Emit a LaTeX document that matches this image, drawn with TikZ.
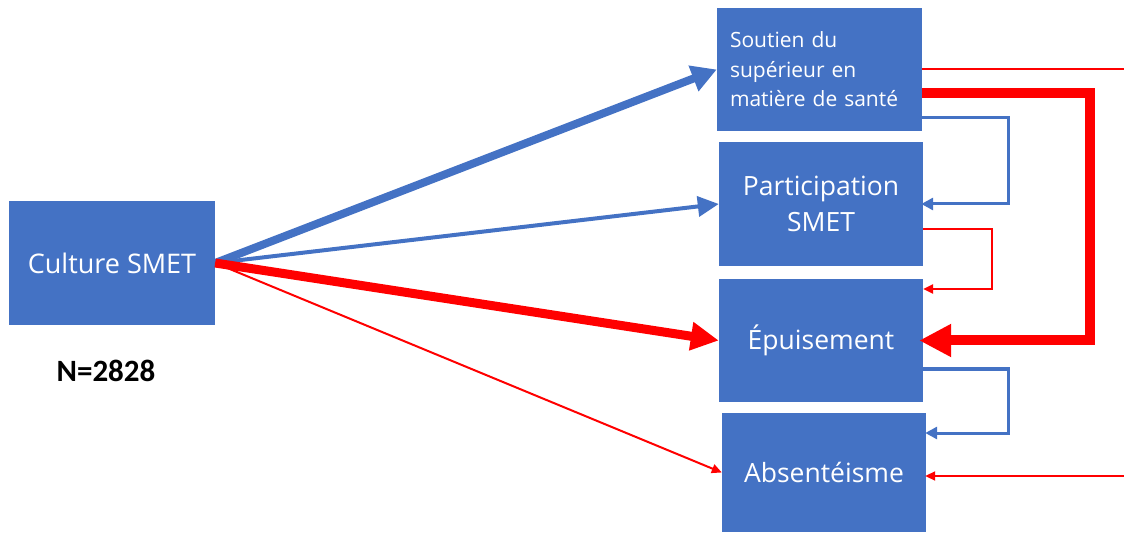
\documentclass[tikz,border=0pt]{standalone}
\usepackage{fontspec}
\setmainfont{Open Sans}
\newfontfamily\calib{Carlito}
\usetikzlibrary{arrows.meta}
\definecolor{obl}{HTML}{4472C4}
\definecolor{ored}{HTML}{FF0000}
\begin{document}
\begin{tikzpicture}[x=1pt,y=-1pt,
  box/.style={fill=obl, text=white, inner sep=0pt, align=center,
    font=\fontsize{26.5}{36}\selectfont},
  bluelink/.style={obl, line width=3pt, -{Triangle[length=12pt,width=12pt]}},
  redthin/.style={ored, line width=2pt, -{Triangle[length=10pt,width=9pt]}}]
\useasboundingbox (0,0) rectangle (1124,534);

\node[box, minimum width=206pt, minimum height=124pt, font=\fontsize{27}{35}\selectfont] (cult) at (112,263) {Culture SMET};
\node[box, minimum width=205pt, minimum height=123pt, text width=179pt, inner xsep=13pt, align=left,
  font=\fontsize{21}{29.5}\selectfont] (sout) at (819.5,69.5) {Soutien du\\supérieur en\\matière de santé};
\node[box, minimum width=204pt, minimum height=124pt] (part) at (821,204) {Participation\\SMET};
\node[box, minimum width=204pt, minimum height=123pt] (epui) at (821,340.5) {\raisebox{-2pt}{Épuisement}};
\node[box, minimum width=204pt, minimum height=119pt] (abs) at (824,472.5) {\raisebox{-4pt}{Absentéisme}};

\node[font=\calib\bfseries\fontsize{31}{36}\selectfont, text=black] (n) at (106,371) {N=2828};

% arrows from Culture SMET
\draw[obl, line width=8pt, -{Triangle[length=25pt,width=26pt]}] (cult.east) -- (sout.west);
\draw[obl, line width=4pt, -{Triangle[length=21pt,width=20pt]}] (cult.east) -- (part.west);
\draw[ored, line width=9pt, -{Triangle[length=28pt,width=27pt]}] (cult.east) -- (epui.west);
\draw[redthin] (cult.east) -- (abs.west);

% right side
\coordinate (r1) at (1124,69.5);
\coordinate (r2) at (1124,476);
\draw[ored, line width=2pt] (sout.east) -- (r1);
\draw[ored, line width=10pt, -{Triangle[length=32pt,width=31pt]}, shorten >=-4pt]
  ([yshift=-23.5pt]sout.east) -- ++(168,0) |- (epui.east);
\draw[bluelink, shorten >=-2pt] ([yshift=-48.5pt]sout.east) -- ++(86,0) |- (part.east);
\draw[ored, line width=2.5pt, -{Triangle[length=10pt,width=9pt]}]
  ([yshift=-25pt]part.east) -- ++(69,0) |- ([yshift=51.5pt]epui.east);
\draw[bluelink, shorten >=-1pt] ([yshift=-28.5pt]epui.east) -- ++(85,0) |- ([yshift=39.5pt]abs.east);
\draw[redthin, shorten >=-1pt] (r2) -- ([yshift=-3.5pt]abs.east);
\end{tikzpicture}
\end{document}
